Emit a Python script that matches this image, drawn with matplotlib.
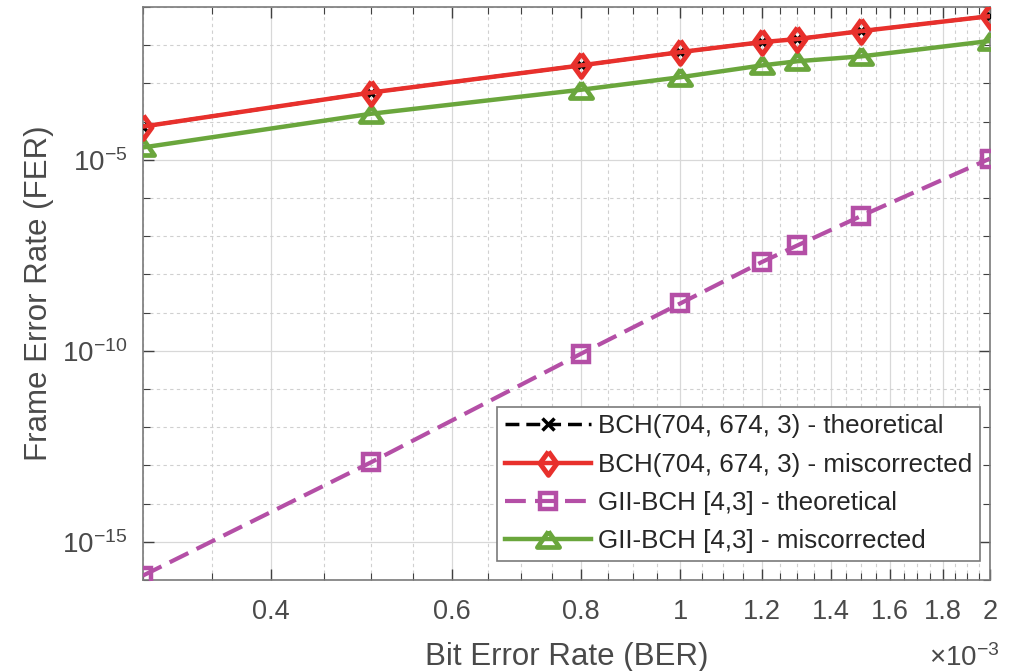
import matplotlib
matplotlib.use("Agg")
import matplotlib.pyplot as plt
from matplotlib import ticker

# Bit error rate sample points
ber = [0.3e-3, 0.5e-3, 0.8e-3, 1.0e-3, 1.2e-3, 1.3e-3, 1.5e-3, 2.0e-3]

# Frame error rates per scheme
fer_bch_theory = [7.4e-5, 5.75e-4, 2.95e-3, 6.6e-3, 1.2e-2, 1.45e-2, 2.34e-2, 5.75e-2]
fer_bch_miscorr = [7.4e-5, 5.75e-4, 2.95e-3, 6.6e-3, 1.2e-2, 1.45e-2, 2.34e-2, 5.75e-2]
fer_gii_theory = [1.3e-16, 1.2e-13, 8.3e-11, 1.74e-9, 2.1e-8, 5.75e-8, 3.4e-7, 1.07e-5]
fer_gii_miscorr = [2.1e-5, 1.6e-4, 6.8e-4, 1.45e-3, 2.95e-3, 3.8e-3, 5.1e-3, 1.29e-2]

labels = [
    "BCH(704, 674, 3) - theoretical",
    "BCH(704, 674, 3) - miscorrected",
    "GII-BCH [4,3] - theoretical",
    "GII-BCH [4,3] - miscorrected",
]

x_major = [0.4e-3, 0.6e-3, 0.8e-3, 1.0e-3, 1.2e-3, 1.4e-3, 1.6e-3, 1.8e-3, 2.0e-3]
x_minor = [k * 0.05e-3 for k in range(6, 41)]

TEXT = "#4a4a4a"
RED = "#e8302c"
GREEN = "#6aa63c"
PURPLE = "#b44fa6"

# slightly tall diamond and flat triangle, like the MATLAB markers
DIAMOND = [(0, 1), (0.72, 0), (0, -1), (-0.72, 0), (0, 1)]
TRIANGLE = [(0, 0.72), (1, -0.72), (-1, -0.72), (0, 0.72)]

plt.rcParams["font.family"] = ["Liberation Sans", "DejaVu Sans"]
plt.rcParams["mathtext.fontset"] = "custom"
plt.rcParams["mathtext.rm"] = "Liberation Sans"
plt.rcParams["mathtext.it"] = "Liberation Sans:italic"
plt.rcParams["mathtext.bf"] = "Liberation Sans:bold"

fig = plt.figure(figsize=(10.2, 6.71), dpi=100)
ax = fig.add_axes([0.140, 0.1356, 0.8304, 0.854])

ax.plot(ber, fer_bch_theory, color="black", linestyle=(0, (4, 2, 4, 2)), linewidth=2.5,
        marker="x", markersize=8, markeredgewidth=2.5, label=labels[0], zorder=3)
ax.plot(ber, fer_bch_miscorr, color=RED, linestyle="-", linewidth=3.2,
        marker=DIAMOND, markersize=17, markerfacecolor="none", markeredgewidth=3.6,
        label=labels[1], zorder=4)
ax.plot(ber, fer_gii_theory, color=PURPLE, linestyle=(0, (5, 2.2)), linewidth=3,
        marker="s", markersize=11, markerfacecolor="none", markeredgewidth=3.2,
        label=labels[2], zorder=3)
ax.plot(ber, fer_gii_miscorr, color=GREEN, linestyle="-", linewidth=3.2,
        marker=TRIANGLE, markersize=16, markerfacecolor="none", markeredgewidth=3.4,
        label=labels[3], zorder=3)

ax.set_xscale("log")
ax.set_yscale("log")
ax.set_xlim(0.3e-3, 2.0e-3)
ax.set_ylim(1e-16, 1e-1)

ax.xaxis.set_major_locator(ticker.FixedLocator(x_major))
ax.xaxis.set_minor_locator(ticker.FixedLocator(x_minor))
ax.xaxis.set_major_formatter(ticker.FuncFormatter(lambda v, p: f"{v * 1e3:g}"))
ax.xaxis.set_minor_formatter(ticker.NullFormatter())

ax.yaxis.set_major_locator(ticker.FixedLocator([1e-15, 1e-10, 1e-5]))
ax.yaxis.set_minor_locator(ticker.FixedLocator([10.0 ** e for e in range(-16, 0)]))
ax.yaxis.set_major_formatter(ticker.LogFormatterMathtext())
ax.yaxis.set_minor_formatter(ticker.NullFormatter())

ax.grid(True, which="major", color="#d8d8d8", linestyle="-", linewidth=0.9)
ax.grid(True, which="minor", color="#d0d0d0", linestyle=(0, (3, 3)), linewidth=0.8)
ax.set_axisbelow(True)

ax.tick_params(which="both", direction="in", top=True, right=True,
               colors="#404040", labelcolor=TEXT)
ax.tick_params(which="major", length=8, width=1)
ax.tick_params(which="minor", length=5, width=0.8)
ax.tick_params(axis="x", labelsize=19.5, pad=14)
ax.tick_params(axis="y", labelsize=20, pad=11)
for spine in ax.spines.values():
    spine.set_color("#7a7a7a")
    spine.set_linewidth(1.2)

ax.set_xlabel("Bit Error Rate (BER)", fontsize=22.5, color=TEXT, labelpad=12)
ax.set_ylabel("Frame Error Rate (FER)", fontsize=22.5, color=TEXT, labelpad=6)
fig.text(1000 / 1020, 1 - 666 / 671, r"$\times10^{-3}$", fontsize=20,
         color=TEXT, ha="right", va="baseline")

leg = ax.legend(loc="lower right", bbox_to_anchor=(0.988, 0.033), borderaxespad=0,
                fontsize=18.7, handlelength=3.3, handletextpad=0.27, labelspacing=0.55,
                borderpad=0.3, fancybox=False, framealpha=1, numpoints=1)
leg.get_frame().set_edgecolor("#7a7a7a")
leg.get_frame().set_linewidth(1.2)
for t in leg.get_texts():
    t.set_color("#262626")

fig.savefig("out.png", dpi=100)
